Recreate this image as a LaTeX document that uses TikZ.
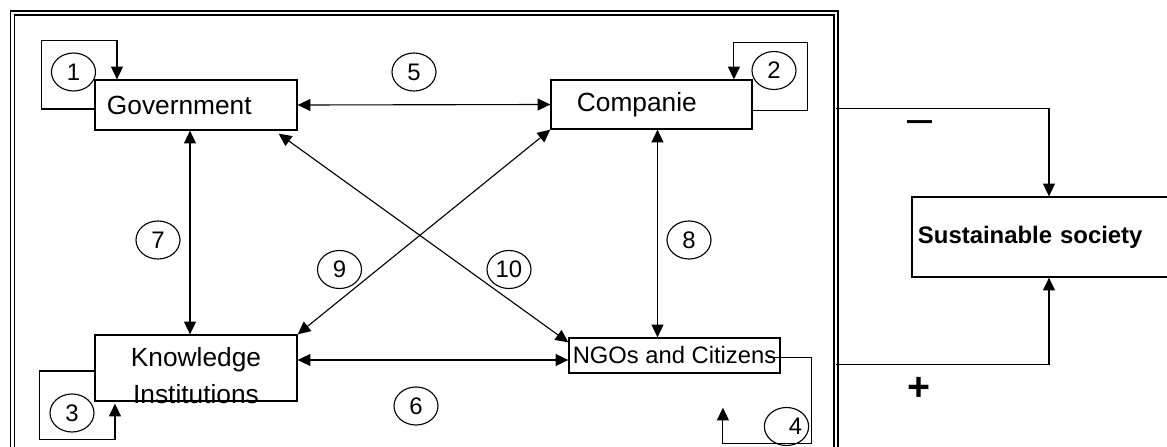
\documentclass[tikz,border=0pt]{standalone}
\usepackage{fontspec}
\setmainfont{Liberation Sans}
\usetikzlibrary{arrows.meta,shapes.geometric}

\begin{document}
\begin{tikzpicture}[x=0.025cm,y=-0.025cm,
  box/.style={draw,line width=0.9pt,inner ysep=0pt,align=left,font=\fontsize{18.7}{22}\selectfont},
  num/.style={draw,ellipse,line width=0.8pt,minimum width=1.1cm,minimum height=0.95cm,inner sep=0pt,font=\fontsize{17}{19}\selectfont},
  twoway/.style={line width=0.8pt,{Triangle[length=0.32cm,width=0.3cm]}-{Triangle[length=0.32cm,width=0.3cm]}},
  oneway/.style={line width=0.8pt,-{Triangle[length=0.32cm,width=0.3cm]}}]
\useasboundingbox (0,0) rectangle (1167,447);
\clip (0,0) rectangle (1167,447);

% outer frame
\node[draw,double,line width=1.1pt,double distance=1.8pt,outer sep=0pt,inner sep=0pt,
  minimum width=20.59cm,minimum height=11.68cm] (frame) at (424.25,246.5) {};

% actors
\node[box,inner xsep=0.3cm,text width=4.45cm,minimum height=1.25cm] (gov) at (196,105) {Government};
\node[box,inner xsep=0.65cm,text width=3.725cm,minimum height=1.225cm] (comp) at (651.5,104.5) {Companie};
\node[box,minimum width=5.05cm,minimum height=1.65cm] (know) at (196,368) {};
\node[align=center,font=\fontsize{18.7}{26.2}\selectfont] (knowtext) at (196,376) {Knowledge\\Institutions};
\node[box,inner xsep=0pt,minimum width=5.275cm,minimum height=0.875cm,font=\fontsize{16.9}{20}\selectfont] (ngo) at (674.5,355.5) {NGOs and Citizens};
\node[box,inner xsep=0.15cm,text width=6.4cm,minimum height=2cm,font=\bfseries\fontsize{17}{20}\selectfont] (sust) at (1046,237) {Sustainable society};

% mutual relations
\coordinate (g7) at ([xshift=-0.15cm]gov.south);
\coordinate (c8) at ([xshift=0.15cm]comp.south);
\coordinate (k6) at ([yshift=0.2cm]know.east);
\draw[twoway] (gov.east) -- (comp.west);
\draw[twoway] (k6) -- (k6 -| ngo.west);
\draw[twoway] (g7) -- (g7 |- know.north);
\draw[twoway] (c8) -- (c8 |- ngo.north);
\draw[twoway] (comp.south west) -- (know.north east);
\draw[twoway] ([xshift=-0.475cm,yshift=-0.075cm]gov.south east) -- ([yshift=-0.125cm]ngo.north west);

% self loops
\draw[oneway] ([yshift=-0.1cm]gov.west) -- ++(-53,0) |- ([xshift=-1.975cm,yshift=0.975cm]gov.north)
  -- ([xshift=-1.975cm]gov.north);
\draw[oneway] ([yshift=-0.16cm]comp.east) -- ++(55,0) |- ([xshift=2.06cm,yshift=0.925cm]comp.north)
  -- ([xshift=2.06cm]comp.north);
\draw[oneway] ([yshift=-0.075cm]know.west) -- ++(-55,0) |- ([xshift=-2.025cm,yshift=-0.95cm]know.south)
  -- ([xshift=-2.025cm,yshift=-0.05cm]know.south);
\draw[oneway] ([xshift=-0.325cm,yshift=-0.06cm]ngo.east) -- ++(44,0) |- ([xshift=1.21cm,yshift=-1.75cm]ngo.south)
  -- ([xshift=1.21cm,yshift=-0.85cm]ngo.south);

% numbers
\node[num] (n1) at (73.5,72) {1};
\node[num] (n2) at (774,70.5) {2};
\node[num] (n3) at (72,413) {3};
\node[num] (n4) at (786.5,426.5) {\hspace{0.45cm}4};
\node[num] (n5) at (414,72) {5};
\node[num] (n6) at (416,406) {6};
\node[num] (n7) at (158,240) {7};
\node[num] (n8) at (689,240) {8};
\node[num] (n9) at (339.5,269.5) {9};
\node[num] (n10) at (509,269.5) {10};

% effect on society
\draw[oneway] ([yshift=3.44cm]frame.east) -| ([xshift=0.075cm]sust.north);
\draw[oneway] ([yshift=-2.96cm]frame.east) -| ([xshift=0.075cm]sust.south);
\node[font=\fontsize{32}{36}\selectfont] (minus) at (920,127) {–};
\node[font=\bfseries\fontsize{28}{32}\selectfont] (plus) at (919,389) {+};
\end{tikzpicture}
\end{document}
